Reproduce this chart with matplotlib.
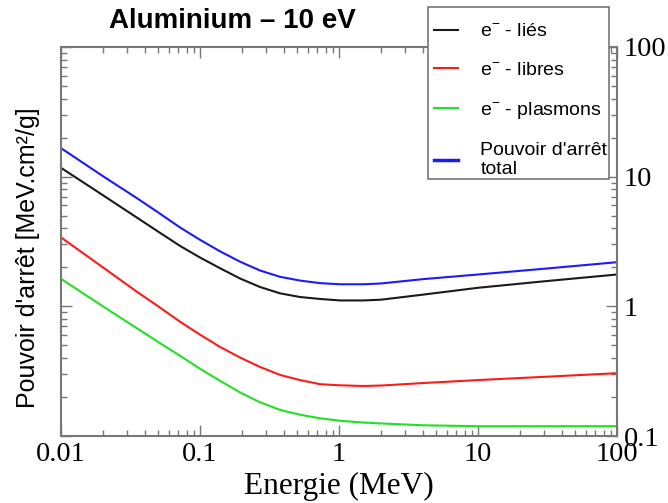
import matplotlib
matplotlib.use("Agg")
import matplotlib.pyplot as plt
from matplotlib.ticker import LogLocator, FuncFormatter, NullFormatter
from matplotlib.patches import Rectangle

# ---- data ----
energy = [0.01, 0.02, 0.035, 0.05, 0.072, 0.1, 0.139, 0.194, 0.27, 0.376, 0.524, 0.73, 1.02,
          1.5, 2, 4, 10, 30, 100]
lies = [11.7, 7.2, 4.85, 3.77, 2.92, 2.38, 1.97, 1.64, 1.41, 1.26, 1.18, 1.14, 1.11,
        1.11, 1.125, 1.23, 1.39, 1.56, 1.76]
libres = [3.4, 2.0, 1.30, 1.0, 0.76, 0.605, 0.487, 0.403, 0.341, 0.296, 0.270, 0.251, 0.246,
          0.243, 0.245, 0.256, 0.27, 0.286, 0.305]
plasmons = [1.63, 1.0, 0.68, 0.531, 0.415, 0.330, 0.267, 0.217, 0.182, 0.159, 0.146, 0.137, 0.131,
            0.127, 0.125, 0.121, 0.119, 0.119, 0.119]
total = [16.6, 10.1, 6.85, 5.3, 4.05, 3.26, 2.66, 2.21, 1.89, 1.69, 1.58, 1.51, 1.48,
         1.48, 1.50, 1.62, 1.76, 1.95, 2.19]

labels = ["e$^{\\mathregular{-}}$ - liés", "e$^{\\mathregular{-}}$ - libres",
          "e$^{\\mathregular{-}}$ - plasmons", "Pouvoir d'arrêt\ntotal"]
title = "Aluminium \u2013 10 eV"
xlabel = "Energie (MeV)"
ylabel = "Pouvoir d'arrêt [MeV.cm²/g]"

SANS = ["Liberation Sans", "DejaVu Sans"]
SERIF = ["Liberation Serif", "DejaVu Serif"]
GRAY = "#777777"

W, H = 668, 503
fig = plt.figure(figsize=(W / 100, H / 100), dpi=100)
ax = fig.add_axes([61 / W, 1 - 436 / H, 556 / W, 389 / H])

series = [(lies, "#1a1a1a"), (libres, "#ff1a1a"), (plasmons, "#22e022"), (total, "#1a1aff")]
for (vals, col), lab in zip(series, labels):
    ax.plot(energy, vals, color=col, lw=1.5, label=lab)

ax.set_xscale("log")
ax.set_yscale("log")
ax.set_xlim(0.01, 100)
ax.set_ylim(0.1, 100)

for ax_ in (ax.xaxis, ax.yaxis):
    ax_.set_major_locator(LogLocator(base=10, numticks=10))
    ax_.set_minor_locator(LogLocator(base=10, subs=range(2, 10), numticks=20))
    ax_.set_major_formatter(FuncFormatter(lambda v, p: "%g" % v))
    ax_.set_minor_formatter(NullFormatter())

for s in ax.spines.values():
    s.set_color(GRAY)
    s.set_linewidth(1.5)

ax.tick_params(which="both", direction="in", top=True, bottom=True, left=True, right=True,
               color=GRAY, width=1.0)
ax.tick_params(which="major", length=8)
ax.tick_params(which="minor", length=4)
ax.tick_params(axis="y", labelleft=False, labelright=True, pad=5)
ax.tick_params(axis="x", pad=4)
for t in ax.get_xticklabels() + ax.get_yticklabels():
    t.set_fontfamily(SERIF)
    t.set_fontsize(20.5)

ax.set_xlabel(xlabel, family=SERIF, fontsize=22.5)
ax.xaxis.set_label_coords(0.5, -0.092)
ax.set_ylabel(ylabel, family=SANS, fontsize=18)
ax.yaxis.set_label_coords(-0.037, 0.459)

fig.text(232 / W, 1 - 28 / H, title, family=SANS, fontsize=20, fontweight="bold",
         ha="center", va="baseline")

# legend box (frame drawn separately so the rows can be placed like the reference)
box = Rectangle((428 / W, 1 - 179 / H), (609 - 428) / W, (179 - 7) / H,
                transform=fig.transFigure, facecolor="white", edgecolor=GRAY,
                linewidth=1.2, clip_on=False, zorder=4)
ax.add_artist(box)

leg = ax.legend(loc="upper left", bbox_to_anchor=(428 / W, 1 - 17 / H),
                bbox_transform=fig.transFigure, borderaxespad=0, borderpad=0.3,
                labelspacing=1.075, handlelength=1.25, handletextpad=1.15,
                frameon=False, prop={"family": SANS, "size": 14})
leg.set_zorder(10)
for h, w in zip(leg.get_lines(), [1.5, 1.5, 1.5, 2.5]):
    h.set_linewidth(w)

fig.savefig("out.png", dpi=100)
